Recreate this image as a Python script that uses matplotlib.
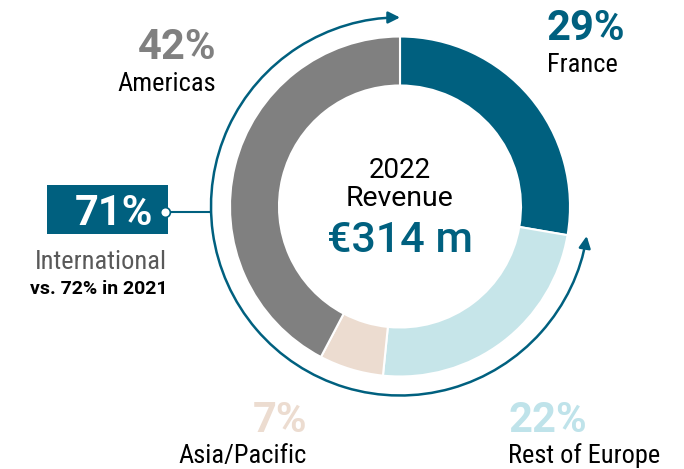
"""2022 revenue split by region — donut with an 'International' arc."""

import matplotlib

matplotlib.use("Agg")

import matplotlib.pyplot as plt
from matplotlib import font_manager
from matplotlib.patches import FancyArrowPatch, Rectangle
from matplotlib.path import Path
from matplotlib.transforms import Affine2D

# ---- data -------------------------------------------------------------
regions = ["France", "Rest of Europe", "Asia/Pacific", "Americas"]
shares = [29, 22, 7, 42]                 # printed labels
slice_sizes = [27.7, 23.9, 6.1, 42.3]    # slice extents as drawn in the source
intl_share = 71
intl_prev = "vs. 72% in 2021"
center_lines = ["2022", "Revenue"]
total_label = "€314 m"

TEAL = "#00607f"
COLORS = ["#00607f", "#c6e5e9", "#ecdcd0", "#808080"]
PCT_COLORS = ["#00607f", "#bfe3ea", "#ecdcd0", "#808080"]

names = {f.name for f in font_manager.fontManager.ttflist}
COND = "Roboto Condensed" if "Roboto Condensed" in names else "Roboto"
plt.rcParams["font.family"] = [COND, "DejaVu Sans"]
WIDE = ["Roboto", "DejaVu Sans"]

W, H = 684, 469
fy = lambda y: H - y  # pixel rows -> data y (up)

fig = plt.figure(figsize=(W / 100, H / 100), dpi=100)
ax = fig.add_axes([0, 0, 1, 1])

cx, cy, r_out, ring = 400, fy(206.5), 170, 49
ax.pie(slice_sizes, colors=COLORS, startangle=90, counterclock=False,
       center=(cx, cy), radius=r_out,
       wedgeprops=dict(width=ring, edgecolor="white", linewidth=1.5))
ax.set_xlim(0, W)
ax.set_ylim(0, H)
ax.set_aspect("equal")
ax.axis("off")

# international arc: from France's end round to the top, heads at both ends
arc_r = 189
end_ang = 90 - 360 * (slice_sizes[0] - 0.2) / 100
arc = Path.arc(90, 360 + end_ang)
arc = Affine2D().scale(arc_r).translate(cx, cy).transform_path(arc)
ax.add_patch(FancyArrowPatch(path=arc, arrowstyle="<|-|>,head_length=7,head_width=3.5",
                             color=TEAL, lw=1.8, shrinkA=0, shrinkB=0))

# 71% box + connector
ax.add_patch(Rectangle((47, fy(234)), 121, 49, color=TEAL, lw=0))
ax.plot([165, 211], [fy(212), fy(212)], color=TEAL, lw=1.5)
ax.plot(165, fy(212), "o", ms=7, mfc="white", mec=TEAL, mew=1.2)
ax.text(153, fy(225), f"{intl_share}%", color="white", fontsize=30,
        fontweight="bold", family=WIDE, ha="right", va="baseline")
ax.text(167, fy(269), "International", color="#595959", fontsize=19,
        ha="right", va="baseline")
ax.text(167, fy(294), intl_prev, color="black", fontsize=14,
        fontweight="bold", family=WIDE, ha="right", va="baseline")

# region labels: (x, pct baseline, name baseline, align)
spots = [(547, 40, 72, "left"), (508, 432, 463, "left"),
         (307, 432, 463, "right"), (216, 59, 91, "right")]
for (x, yb1, yb2, ha), name, v, c in zip(spots, regions, shares, PCT_COLORS):
    ax.text(x, fy(yb1), f"{v}%", color=c, fontsize=30, fontweight="bold",
            family=WIDE, ha=ha, va="baseline")
    ax.text(x, fy(yb2), name, color="black", fontsize=19, ha=ha, va="baseline")

# centre
ax.text(cx, fy(178), center_lines[0], fontsize=20, family=WIDE,
        ha="center", va="baseline")
ax.text(cx, fy(206), center_lines[1], fontsize=20.5, family=WIDE,
        ha="center", va="baseline")
ax.text(cx, fy(252), total_label, fontsize=31, color=TEAL, fontweight="medium",
        family=WIDE, ha="center", va="baseline")

fig.savefig("out.png", dpi=100)
